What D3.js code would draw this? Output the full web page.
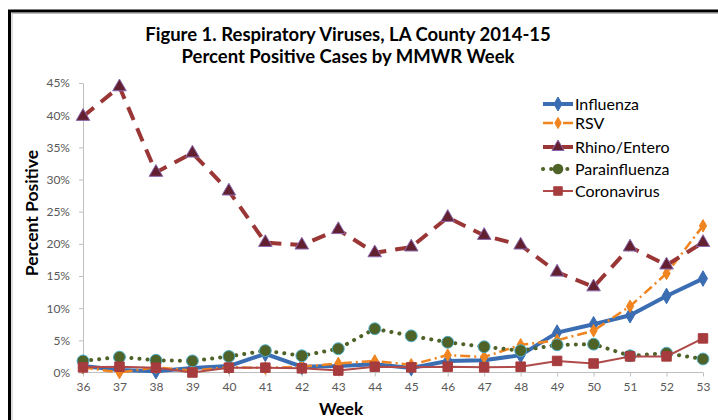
<!DOCTYPE html>
<html lang="en">
<head>
<meta charset="UTF-8">
<title>Respiratory Viruses, LA County 2014-15</title>
<script src="https://d3js.org/d3.v7.min.js"></script>
<style>
    body { margin: 0; background: #fff; }
    svg { display: block; font-family: Lato, "Open Sans", sans-serif; }
    .axis path, .axis line { stroke: #bfbfbf; }
    .axis text { fill: #595959; font-size: 12px; font-family: Lato, sans-serif; }
</style>
</head>
<body>
<svg id="main" width="718" height="420"></svg>
<script>

    // data (percent positive by MMWR week)
    var weeks = ["36","37","38","39","40","41","42","43","44","45","46","47","48","49","50","51","52","53"];
    var yTicks = [0, 5, 10, 15, 20, 25, 30, 35, 40, 45];

    var influenza     = [1.0, 0.4, 0.2, 0.7, 1.0, 2.9, 0.9, 1.0, 1.3, 0.7, 1.8, 1.9, 2.7, 6.2, 7.5, 8.9, 11.9, 14.6];
    var rsv           = [0.8, 0.0, 0.8, 0.3, 0.8, 0.7, 0.9, 1.4, 1.8, 1.2, 2.7, 2.4, 4.3, 5.0, 6.5, 10.3, 15.4, 22.8];
    var rhinoEntero   = [39.8, 44.4, 31.1, 34.1, 28.2, 20.2, 19.8, 22.2, 18.6, 19.5, 24.1, 21.3, 19.8, 15.6, 13.3, 19.5, 16.7, 20.2];
    var parainfluenza = [1.8, 2.4, 1.9, 1.8, 2.5, 3.4, 2.6, 3.7, 6.8, 5.7, 4.7, 4.0, 3.4, 4.3, 4.4, 2.6, 3.0, 2.1];
    var coronavirus   = [0.8, 0.9, 0.75, 0.0, 0.75, 0.75, 0.65, 0.3, 0.9, 0.8, 0.9, 0.8, 0.9, 1.8, 1.4, 2.5, 2.5, 5.3];

    var series = [
        {name: "Influenza",     values: influenza,     color: "#3b6db3", width: 4,   dash: null,     symbol: d3.symbolDiamond,  size: 70,  fill: "#3b6db3", stroke: "#3b6db3"},
        {name: "RSV",           values: rsv,           color: "#f0841f", width: 2.5, dash: "10,4,2,4", symbol: d3.symbolDiamond, size: 45,  fill: "#f0841f", stroke: "#f0841f"},
        {name: "Rhino/Entero",  values: rhinoEntero,   color: "#9b3636", width: 4,   dash: "14,9",   symbol: d3.symbolTriangle, size: 80,  fill: "#632030", stroke: "#8a6aae"},
        {name: "Parainfluenza", values: parainfluenza, color: "#4f6228", width: 4,   dash: "0.1,8",  symbol: d3.symbolCircle,   size: 110, fill: "#4f6228", stroke: "#4bacc6"},
        {name: "Coronavirus",   values: coronavirus,   color: "#b04a4a", width: 2,   dash: null,     symbol: d3.symbolSquare,   size: 90,  fill: "#a63c3e", stroke: "#a63c3e"}
    ];

    var svg = d3.select("#main");

    // page border (top and left rule)
    svg.append("path")
        .attr("d", "M9.5,420 V11 H718")
        .attr("fill", "none")
        .attr("stroke", "#000")
        .attr("stroke-width", 3);
    svg.append("path")
        .attr("d", "M12,420 V13.5 H718")
        .attr("fill", "none")
        .attr("stroke", "#bbb")
        .attr("stroke-width", 1);

    var x = d3.scalePoint().domain(weeks).range([83, 703]);
    var y = d3.scaleLinear().domain([0, 45]).range([372.5, 83]);

    // axes
    svg.append("g")
        .attr("class", "axis")
        .attr("transform", "translate(0,372.5)")
        .call(d3.axisBottom(x).tickSizeInner(4).tickSizeOuter(0).tickPadding(6))
        .call(function(g) { g.select(".domain").attr("d", "M83,0H703"); });

    svg.append("g")
        .attr("class", "axis")
        .attr("transform", "translate(83,0)")
        .call(d3.axisLeft(y).tickValues(yTicks).tickSizeInner(4).tickSizeOuter(0).tickPadding(9)
            .tickFormat(function(d) { return d + "%"; }));

    // lines
    var line = d3.line()
        .x(function(d, i) { return x(weeks[i]); })
        .y(function(d) { return y(d); });

    series.forEach(function(s) {
        var g = svg.append("g");
        g.append("path")
            .datum(s.values)
            .attr("fill", "none")
            .attr("stroke", s.color)
            .attr("stroke-width", s.width)
            .attr("stroke-linecap", s.name == "Parainfluenza" ? "round" : "butt")
            .attr("stroke-dasharray", s.dash)
            .attr("d", line);

        g.selectAll("path.mark")
            .data(s.values)
            .enter().append("path")
            .attr("class", "mark")
            .attr("transform", function(d, i) { return "translate(" + x(weeks[i]) + "," + y(d) + ")"; })
            .attr("d", d3.symbol().type(s.symbol).size(s.size))
            .attr("fill", s.fill)
            .attr("stroke", s.stroke)
            .attr("stroke-width", 1);
    });

    // legend
    var legend = svg.selectAll(".legend")
        .data(series)
        .enter().append("g")
        .attr("class", "legend")
        .attr("transform", function(d, i) { return "translate(543," + [104, 123, 147, 169, 191][i] + ")"; });

    legend.append("line")
        .attr("x1", 0).attr("x2", 30)
        .attr("stroke", function(d) { return d.color; })
        .attr("stroke-width", function(d) { return d.width; })
        .attr("stroke-linecap", function(d) { return d.name == "Parainfluenza" ? "round" : "butt"; })
        .attr("stroke-dasharray", function(d) { return d.name == "Rhino/Entero" ? null : d.dash; });

    legend.append("path")
        .attr("transform", "translate(15,0)")
        .attr("d", function(d) { return d3.symbol().type(d.symbol).size(d.size * 0.8)(); })
        .attr("fill", function(d) { return d.fill; })
        .attr("stroke", function(d) { return d.name == "Parainfluenza" ? "none" : d.stroke; });

    legend.append("text")
        .attr("x", 32)
        .attr("dy", "0.35em")
        .style("font-size", "16px")
        .attr("fill", "#000")
        .text(function(d) { return d.name; });

    // titles
    svg.append("text")
        .attr("x", 348).attr("y", 41)
        .attr("text-anchor", "middle")
        .style("font-size", "18.5px").style("font-weight", "bold")
        .text("Figure 1. Respiratory Viruses, LA County 2014-15");
    svg.append("text")
        .attr("x", 348).attr("y", 63)
        .attr("text-anchor", "middle")
        .style("font-size", "18.5px").style("font-weight", "bold")
        .text("Percent Positive Cases by MMWR Week");

    svg.append("text")
        .attr("transform", "translate(38,213) rotate(-90)")
        .attr("text-anchor", "middle")
        .style("font-size", "17.5px").style("font-weight", "bold")
        .text("Percent Positive");

    svg.append("text")
        .attr("x", 341).attr("y", 415)
        .attr("text-anchor", "middle")
        .style("font-size", "17px").style("font-weight", "bold")
        .text("Week");

</script>
</body>
</html>
